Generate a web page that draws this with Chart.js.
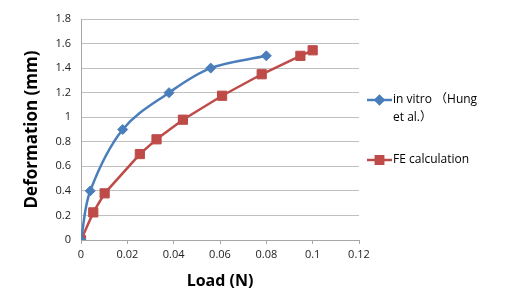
<!DOCTYPE html>
<html>
<head>
<meta charset="utf-8">
<script src="https://cdn.jsdelivr.net/npm/chart.js@4"></script>
<style>
    html, body { margin: 0; padding: 0; background: #fff; }
    #wrap { width: 514px; height: 299px; }
</style>
</head>
<body>
<div id="wrap"><canvas id="loadChart" width="514" height="299"></canvas></div>
<script>
// values
const vitroLoad = [0, 0.004, 0.018, 0.038, 0.056, 0.080];
const vitroDef  = [0, 0.40, 0.90, 1.20, 1.40, 1.50];
const feLoad = [0, 0.0053, 0.0102, 0.0254, 0.0326, 0.044, 0.0609, 0.078, 0.0947, 0.100];
const feDef  = [0, 0.225, 0.38, 0.70, 0.82, 0.98, 1.175, 1.35, 1.50, 1.545];
const seriesNames = [["in vitro \uFF08Hung", "et al.\uFF09"], ["FE calculation"]];

const font = "'Open Sans', 'Noto Sans CJK SC', sans-serif";

function toPoints(xs, ys) {
    return xs.map((x, i) => ({ x: x, y: ys[i] }));
}

// legend to the right, two-line label like the original
const sideLegend = {
    id: "sideLegend",
    afterDraw(chart) {
        const ctx = chart.ctx;
        const rows = [100, 160];
        ctx.save();
        chart.data.datasets.forEach((ds, i) => {
            const y = rows[i];
            ctx.strokeStyle = ds.borderColor;
            ctx.lineWidth = 2.5;
            ctx.beginPath();
            ctx.moveTo(367, y);
            ctx.lineTo(392, y);
            ctx.stroke();
            Chart.helpers.drawPoint(ctx, {
                pointStyle: ds.pointStyle,
                radius: ds.pointRadius * 0.8,
                borderWidth: 1,
            }, 379.5, y);
            ctx.fillStyle = ds.borderColor;
            ctx.fill();
            ctx.fillStyle = "#000";
            ctx.font = "12px " + font;
            ctx.textBaseline = "middle";
            ds.label.forEach((line, j) => {
                ctx.fillText(line, 393, y + j * 18);
            });
        });
        ctx.restore();
    },
};

new Chart(document.getElementById("loadChart"), {
    type: "scatter",
    data: {
        datasets: [
            {
                label: seriesNames[0],
                data: toPoints(vitroLoad, vitroDef),
                showLine: true,
                borderColor: "#4A7EBB",
                backgroundColor: "#4A7EBB",
                borderWidth: 2.5,
                tension: 0.35,
                pointStyle: "rectRot",
                pointRadius: 5,
                pointBorderWidth: 1,
            },
            {
                label: seriesNames[1],
                data: toPoints(feLoad, feDef),
                showLine: true,
                borderColor: "#BE4B48",
                backgroundColor: "#BE4B48",
                borderWidth: 2.5,
                tension: 0,
                pointStyle: "rect",
                pointRadius: 6.5,
                pointBorderWidth: 1,
            },
        ],
    },
    options: {
        responsive: false,
        animation: false,
        layout: { padding: { top: 19, right: 155, left: 18, bottom: 4 } },
        plugins: {
            legend: { display: false },
            tooltip: { enabled: false },
        },
        scales: {
            x: {
                type: "linear",
                min: 0,
                max: 0.12,
                ticks: {
                    stepSize: 0.02,
                    color: "#222",
                    font: { family: font, size: 11 },
                    padding: 4,
                    callback: (v) => String(+v.toFixed(2)),
                },
                grid: { drawOnChartArea: false, color: "#a6a6a6", tickLength: 4 },
                border: { color: "#a6a6a6" },
                title: {
                    display: true,
                    text: "Load (N)",
                    color: "#000",
                    font: { family: font, size: 16, weight: "bold" },
                    padding: { top: 8 },
                },
                afterFit: (axis) => { axis.height = 55; },
            },
            y: {
                min: 0,
                max: 1.8,
                ticks: {
                    stepSize: 0.2,
                    color: "#222",
                    font: { family: font, size: 11 },
                    padding: 10,
                    callback: (v) => String(+v.toFixed(1)),
                },
                grid: { color: "#c0c0c0", tickLength: 0 },
                border: { color: "#a6a6a6" },
                title: {
                    display: true,
                    text: "Deformation (mm)",
                    color: "#000",
                    font: { family: font, size: 17, weight: "bold" },
                },
                afterFit: (axis) => { axis.width = 63; },
            },
        },
    },
    plugins: [sideLegend],
});
</script>
</body>
</html>
